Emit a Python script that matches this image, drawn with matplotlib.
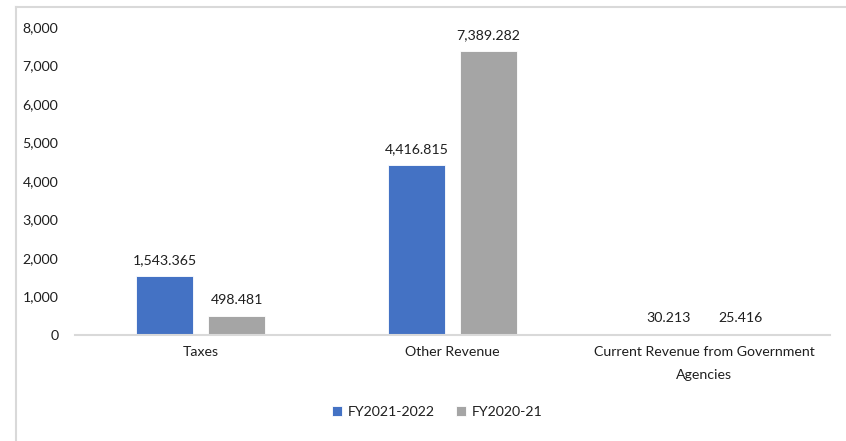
import matplotlib
matplotlib.use("Agg")
import matplotlib.pyplot as plt
import numpy as np
from matplotlib.lines import Line2D

categories = ["Taxes", "Other Revenue", "Current Revenue from Government\nAgencies"]
series_names = ["FY2021-2022", "FY2020-21"]
fy2122 = [1543.365, 4416.815, 30.213]
fy2021 = [498.481, 7389.282, 25.416]
labels_2122 = ["1,543.365", "4,416.815", "30.213"]
labels_2021 = ["498.481", "7,389.282", "25.416"]
colors = ["#4472C4", "#A5A5A5"]

plt.rcParams['font.family'] = ['Lato', 'DejaVu Sans']

fig = plt.figure(figsize=(8.46, 4.41), dpi=100)
ax = fig.add_axes([75/846, 1-335/441, 755/846, (335-27)/441])

x = np.arange(len(categories))
w = 0.226
gap = 0.06
off = (w + gap) / 2
b1 = ax.bar(x - off, fy2122, w, color=colors[0], edgecolor="white", linewidth=0.6, label=series_names[0], zorder=3)
b2 = ax.bar(x + off, fy2021, w, color=colors[1], edgecolor="white", linewidth=0.6, label=series_names[1], zorder=3)

tc = "#1f1f1f"
fs = 10.2
for rect, lab in zip(b1, labels_2122):
    ax.annotate(lab, (rect.get_x() + rect.get_width()/2, rect.get_height()),
                xytext=(0, 7), textcoords="offset points", ha="center", va="bottom",
                fontsize=fs, color=tc)
for rect, lab in zip(b2, labels_2021):
    ax.annotate(lab, (rect.get_x() + rect.get_width()/2, rect.get_height()),
                xytext=(0, 7), textcoords="offset points", ha="center", va="bottom",
                fontsize=fs, color=tc)

ax.set_xlim(-0.5, 2.5)
ax.set_ylim(0, 8000)
ax.set_yticks(np.arange(0, 8001, 1000))
ax.yaxis.set_major_formatter(matplotlib.ticker.FuncFormatter(lambda v, p: f"{int(v):,}"))
ax.set_xticks(x)
ax.set_xticklabels(categories, fontsize=fs, color=tc, linespacing=2.1)
ax.tick_params(axis='y', length=0, pad=12, labelsize=fs, labelcolor=tc)
ax.tick_params(axis='x', length=0, pad=8)
for s in ["top", "right", "left"]:
    ax.spines[s].set_visible(False)
ax.spines["bottom"].set_color("#D9D9D9")
ax.spines["bottom"].set_linewidth(1.5)
ax.spines["bottom"].set_zorder(4)

leg = fig.legend(handles=[b1, b2], labels=series_names, loc="center",
                 bbox_to_anchor=(437/846, 1-412/441), ncol=2, frameon=False,
                 fontsize=fs, handlelength=0.7, handleheight=0.7, columnspacing=1.5,
                 handletextpad=0.4)
for t in leg.get_texts():
    t.set_color(tc)

# figure border (left and top)
fig.add_artist(Line2D([16/846, 16/846], [0, 1-7/441], color="#D9D9D9", linewidth=1.5, transform=fig.transFigure))
fig.add_artist(Line2D([16/846, 1], [1-7/441, 1-7/441], color="#D9D9D9", linewidth=1.5, transform=fig.transFigure))

fig.savefig("out.png", dpi=100)
